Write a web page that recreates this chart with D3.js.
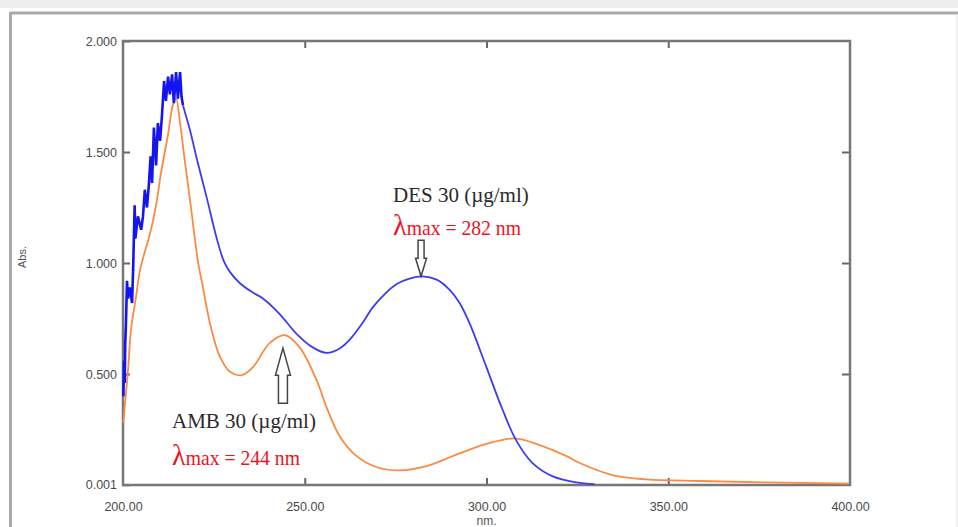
<!DOCTYPE html>
<html>
<head>
<meta charset="utf-8">
<script src="https://cdn.jsdelivr.net/npm/d3@7"></script>
<style>
  html, body { margin: 0; padding: 0; background: #fff; }
  svg { display: block; }
</style>
</head>
<body>
<div id="chart-container"></div>
<script>
// DES 30 (blue): noisy start, then smooth spectrum
const desNoisyNm = [200.1, 200.3, 200.5, 200.6, 200.8, 201.1, 201.4, 201.9, 202.5, 202.8, 203.2, 203.4,
  204.1, 205.0, 205.5, 206.0, 206.6, 207.1, 207.6, 208.0, 208.5, 209.1, 209.6, 210.2, 210.7, 211.3,
  211.8, 212.4, 212.9, 213.5, 214.0, 214.6, 215.1, 215.7, 216.1, 216.5];
const desNoisyAbs = [0.40, 0.56, 0.46, 0.63, 0.72, 0.92, 0.84, 0.89, 0.82, 0.98, 1.26, 1.11,
  1.21, 1.15, 1.21, 1.33, 1.25, 1.35, 1.48, 1.36, 1.61, 1.44, 1.63, 1.55, 1.66, 1.82,
  1.73, 1.84, 1.76, 1.85, 1.72, 1.86, 1.74, 1.86, 1.75, 1.71];
const desNm = [216.5, 218.4, 220.3, 223.1, 225.8, 227.7, 229.4, 232.1, 235.4, 238.5, 243.1, 247.8,
  252.2, 256.0, 259.6, 262.4, 265.7, 268.7, 272.0, 275.3, 278.8, 282.4, 286.3, 289.8, 292.6, 295.3,
  300.0, 304.4, 308.2, 312.6, 318.1, 324.7, 329.7];
const desAbs = [1.71, 1.60, 1.47, 1.29, 1.11, 1.01, 0.96, 0.91, 0.87, 0.84, 0.77, 0.68,
  0.62, 0.595, 0.615, 0.655, 0.725, 0.80, 0.86, 0.905, 0.93, 0.94, 0.925, 0.88, 0.82, 0.73,
  0.53, 0.34, 0.20, 0.10, 0.04, 0.012, 0.004];

// AMB 30 (orange)
const ambNm = [200.1, 200.4, 200.8, 201.4, 202.2, 203.6, 204.7, 206.0, 207.4, 209.1, 210.4, 212.4,
  213.7, 214.6, 215.7, 217.0, 218.7, 220.6, 222.0, 223.9, 226.6, 229.4, 232.7, 235.7, 240.4, 244.5,
  248.6, 253.3, 256.0, 259.6, 264.3, 269.8, 276.1, 283.5, 290.7, 300.0, 307.7, 314.6, 322.0, 325.5,
  334.6, 344.0, 358.5, 376.4, 399.7];
const ambAbs = [0.28, 0.34, 0.41, 0.52, 0.70, 0.85, 0.97, 1.05, 1.13, 1.26, 1.40, 1.58,
  1.71, 1.74, 1.63, 1.46, 1.25, 1.01, 0.89, 0.73, 0.58, 0.51, 0.495, 0.53, 0.64, 0.675,
  0.62, 0.47, 0.35, 0.22, 0.13, 0.08, 0.066, 0.085, 0.13, 0.185, 0.21, 0.18, 0.13, 0.10,
  0.045, 0.025, 0.018, 0.012, 0.006];

const xTicks = [200, 250, 300, 350, 400];
const yTicks = [0.001, 0.5, 1, 1.5, 2];

const width = 958;
const height = 527;
const plot = { left: 123, right: 850, top: 41, bottom: 485 };

const svg = d3.select("#chart-container").append("svg")
  .attr("width", width)
  .attr("height", height);

// window frame
svg.append("rect").attr("x", 0).attr("y", 0).attr("width", width).attr("height", 8).attr("fill", "#eeeeee");
svg.append("line").attr("x1", 10).attr("x2", width).attr("y1", 13).attr("y2", 13)
  .attr("stroke", "#aaaaaa").attr("stroke-width", 3);
svg.append("line").attr("x1", 10.5).attr("x2", 10.5).attr("y1", 12).attr("y2", height)
  .attr("stroke", "#aaaaaa").attr("stroke-width", 3);
svg.append("line").attr("x1", 957).attr("x2", 957).attr("y1", 14).attr("y2", height)
  .attr("stroke", "#e2e2e2").attr("stroke-width", 1);

const x = d3.scaleLinear().domain([200, 400]).range([plot.left, plot.right]);
const y = d3.scaleLinear().domain([0, 2]).range([plot.bottom, plot.top]);

const tickFont = "'Liberation Sans', Arial, sans-serif";

const styleAxis = (g) => {
  g.select(".domain").remove();
  g.selectAll(".tick line").attr("stroke", "#666").attr("stroke-width", 2);
  g.selectAll("text").attr("fill", "#4a4a4a").style("font-family", tickFont).style("font-size", "12.5px");
};

svg.append("g")
  .attr("transform", `translate(${plot.left},0)`)
  .call(d3.axisLeft(y).tickValues(yTicks).tickFormat(d3.format(".3f")).tickSize(-7).tickPadding(6).tickSizeOuter(0))
  .call(styleAxis);
svg.append("g")
  .attr("transform", `translate(${plot.right},0)`)
  .call(d3.axisRight(y).tickValues(yTicks.slice(1, 4)).tickFormat("").tickSize(-8).tickSizeOuter(0))
  .call(styleAxis);
svg.append("g")
  .attr("transform", `translate(0,${plot.bottom})`)
  .call(d3.axisBottom(x).tickValues(xTicks).tickFormat(d3.format(".2f")).tickSize(-7).tickPadding(17).tickSizeOuter(0))
  .call(styleAxis)
  .call((g) => g.selectAll(".tick").filter((d) => d === 200 || d === 400).select("line").remove());
svg.append("g")
  .attr("transform", `translate(0,${plot.top})`)
  .call(d3.axisTop(x).tickValues(xTicks.slice(1, 4)).tickFormat("").tickSize(-7).tickSizeOuter(0))
  .call(styleAxis);

// plot box
svg.append("path")
  .attr("d", `M${plot.left},${plot.top}H${plot.right}V${plot.bottom}H${plot.left}Z`)
  .attr("fill", "none")
  .attr("stroke", "#777")
  .attr("stroke-width", 2.5);

// axis titles
svg.append("text")
  .attr("transform", `translate(26,257) rotate(-90)`)
  .attr("text-anchor", "middle")
  .attr("fill", "#555")
  .style("font-family", tickFont)
  .style("font-size", "11px")
  .text("Abs.");
svg.append("text")
  .attr("x", (plot.left + plot.right) / 2)
  .attr("y", 525)
  .attr("text-anchor", "middle")
  .attr("fill", "#555")
  .style("font-family", tickFont)
  .style("font-size", "12px")
  .text("nm.");

// spectra
const line = d3.line().x((d) => x(d[0])).y((d) => y(d[1]));
const smooth = d3.curveCatmullRom.alpha(0.5);

svg.append("path")
  .datum(d3.zip(ambNm, ambAbs))
  .attr("d", line.curve(smooth))
  .attr("fill", "none")
  .attr("stroke", "#fb8a43")
  .attr("stroke-width", 1.8);

svg.append("path")
  .datum(d3.zip(desNoisyNm, desNoisyAbs))
  .attr("d", line.curve(d3.curveLinear))
  .attr("fill", "none")
  .attr("stroke", "#1414ee")
  .attr("stroke-width", 2.6);

svg.append("path")
  .datum(d3.zip(desNm, desAbs))
  .attr("d", line.curve(smooth))
  .attr("fill", "none")
  .attr("stroke", "#3c3cf6")
  .attr("stroke-width", 1.8);

// hollow arrows pointing at the maxima
const arrow = (cx, tipY, dir, shaftW, headW, headLen, shaftLen) => {
  const hb = tipY - dir * headLen;
  const se = hb - dir * shaftLen;
  const p = d3.path();
  p.moveTo(cx, tipY);
  p.lineTo(cx + headW / 2, hb);
  p.lineTo(cx + shaftW / 2, hb);
  p.lineTo(cx + shaftW / 2, se);
  p.lineTo(cx - shaftW / 2, se);
  p.lineTo(cx - shaftW / 2, hb);
  p.lineTo(cx - headW / 2, hb);
  p.closePath();
  svg.append("path")
    .attr("d", p.toString())
    .attr("fill", "#fff")
    .attr("stroke", "#444")
    .attr("stroke-width", 1.5);
};

arrow(x(282), y(0.94), 1, 6, 11, 18, 18);
arrow(x(244), y(0.675) + 13, -1, 9, 15, 27, 28);

const serif = "'Liberation Serif', 'Times New Roman', serif";

const label = (lx, nameY, name, lamY, lam) => {
  svg.append("text")
    .attr("x", lx)
    .attr("y", nameY)
    .attr("fill", "#2a2a2a")
    .style("font-family", serif)
    .style("font-size", "21px")
    .text(name);
  const t = svg.append("text")
    .attr("x", lx)
    .attr("y", lamY)
    .attr("fill", "#ee1122")
    .style("font-family", serif)
    .attr("textLength", 128)
    .attr("lengthAdjust", "spacingAndGlyphs");
  t.append("tspan").style("font-size", "30px").text("λ");
  t.append("tspan").style("font-size", "21px").text(lam);
};

label(393, 202, "DES 30 (µg/ml)", 235, "max = 282 nm");
label(172, 428, "AMB 30 (µg/ml)", 465, "max = 244 nm");
</script>
</body>
</html>
